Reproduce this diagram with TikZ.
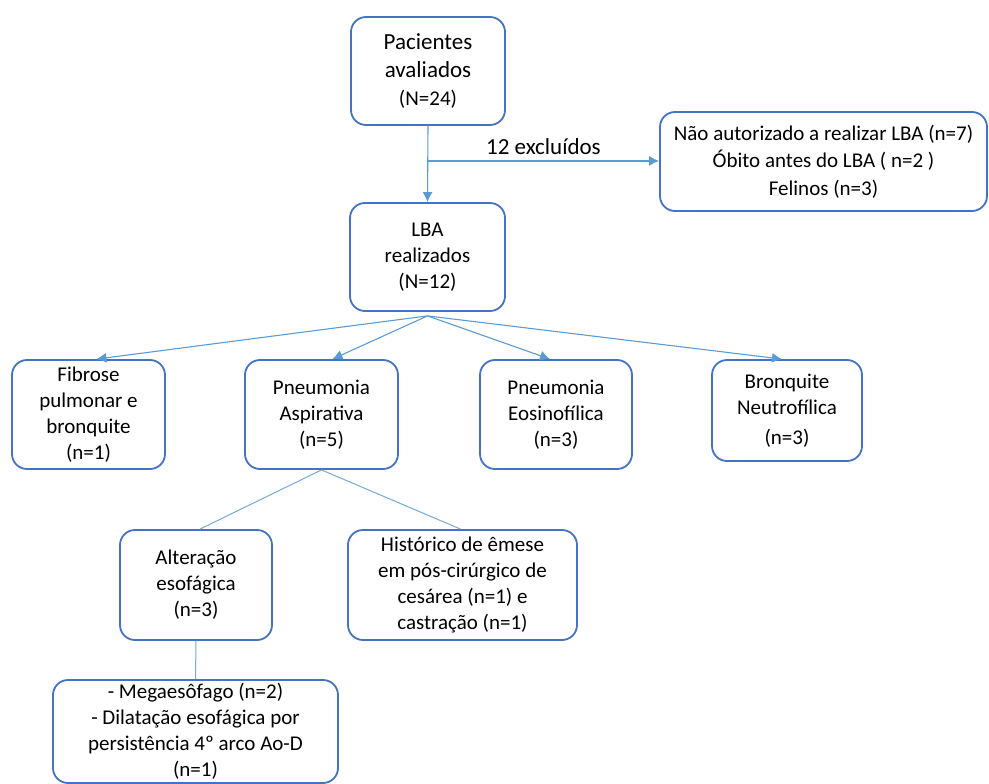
\documentclass[tikz,border=0pt]{standalone}
\usepackage{fontspec}
\setmainfont{Carlito}
\usepackage{tikz}
\usetikzlibrary{arrows.meta,calc,positioning}
\definecolor{boxblue}{HTML}{4472C4}
\definecolor{lineblue}{HTML}{5B9BD5}
\tikzset{
        block/.style = {draw=boxblue, rectangle, rounded corners=15pt,
            line width=1.8pt, align=center, inner sep=2pt,
            font=\fontsize{21}{26}\selectfont,
            minimum height=109pt,
            minimum width=153pt},
        arrow/.style={draw=lineblue, line width=1.1pt, -{Latex[length=10pt,width=10pt]}},
        link/.style={draw=lineblue!85, line width=1pt},
    }

\begin{document}
\begin{tikzpicture}[x=1pt,y=-1pt]
    \useasboundingbox (0,0) rectangle (989,784);

    \node[block, minimum width=154pt, minimum height=108pt,
          font=\fontsize{23}{28}\selectfont] (pac) at (428,71)
          {Pacientes\\avaliados\\{\fontsize{21}{26}\selectfont (N=24)}};
    \node[block, minimum width=327pt, minimum height=99pt,
          font=\fontsize{21}{27.5}\selectfont] (excl) at (823.5,161.5)
          {Não autorizado a realizar LBA (n=7)\\Óbito antes do LBA ( n=2 )\\Felinos (n=3)};
    \node[block, minimum width=155pt, minimum height=108pt] (lba) at (427.5,257)
          {LBA\\realizados\\(N=12)};

    % resultados do LBA
    \node[block] (fib) at (88.5,414.5) {Fibrose\\pulmonar e\\bronquite\\(n=1)};
    \node[block] (asp) at (321.5,414.5) {Pneumonia\\Aspirativa\\(n=5)};
    \node[block, minimum width=152pt] (eos) at (556,414.5) {Pneumonia\\Eosinofílica\\(n=3)};
    \node[block, minimum width=150pt, minimum height=101pt] (bro) at (787,410.5)
          {Bronquite\\Neutrofílica\\[4pt](n=3)};

    % pneumonia aspirativa
    \node[block, minimum width=152pt, minimum height=110pt] (alt) at (196,585)
          {Alteração\\esofágica\\(n=3)};
    \node[block, minimum width=229pt, minimum height=110pt] (hist) at (462.5,585)
          {Histórico de êmese\\em pós-cirúrgico de\\cesárea (n=1) e\\castração (n=1)};
    \node[block, minimum width=285pt, minimum height=103pt] (mega) at (195.5,731.5)
          {- Megaesôfago (n=2)\\- Dilatação esofágica por\\persistência 4º arco Ao-D\\(n=1)};

    \coordinate (split) at ($(pac.south)!0.46!(lba.north)$);
    \coordinate (fork) at ($(lba.south)+(0,4)$);

    \draw[arrow] (pac.south) -- (lba.north);
    \draw[arrow] (split) -- node[above=2pt, font=\fontsize{23}{28}\selectfont] (exlabel) {12 excluídos}
        (split -| excl.west);

    \draw[arrow] (fork) -- ([xshift=8pt]fib.north);
    \draw[arrow] (fork) -- ([xshift=11pt]asp.north);
    \draw[arrow] (fork) -- ([xshift=-6pt]eos.north);
    \draw[arrow] (fork) -- ([xshift=-5pt]bro.north);

    \draw[link] (asp.south) -- ([xshift=4pt]alt.north);
    \draw[link] (asp.south) -- ([xshift=-2pt]hist.north);
    \draw[link] (alt.south) -- (mega.north);
\end{tikzpicture}
\end{document}
